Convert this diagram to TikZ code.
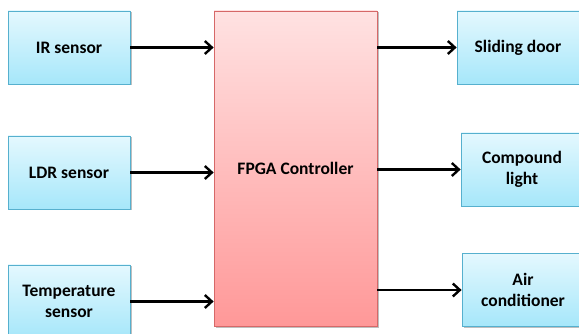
\documentclass[tikz,border=0pt]{standalone}
\usepackage{fontspec}
\setmainfont{Carlito}
\usepackage{xcolor}
\usetikzlibrary{arrows.meta,shadows}

\definecolor{boxtop}{RGB}{228,248,254}
\definecolor{boxbot}{RGB}{166,231,250}
\definecolor{boxline}{RGB}{86,176,206}
\definecolor{ctltop}{RGB}{255,226,226}
\definecolor{ctlbot}{RGB}{255,152,152}
\definecolor{ctlline}{RGB}{214,104,104}

\tikzset{
	unit/.style={draw=boxline, line width=0.8pt, top color=boxtop, bottom color=boxbot,
		minimum width=122pt, minimum height=73pt, inner sep=0pt, align=center,
		font=\fontsize{17.5}{21.5}\selectfont\bfseries,
		drop shadow={shadow xshift=1.5pt, shadow yshift=-1.5pt, opacity=0.25, fill=black}},
	ctl/.style={unit, draw=ctlline, top color=ctltop, bottom color=ctlbot,
		minimum width=163pt, minimum height=315pt},
	link/.style={line width=2.6pt, -{Straight Barb[length=7pt,width=13pt,line width=2.4pt]}}
}

\begin{document}
\begin{tikzpicture}[x=1pt,y=-1pt]

\useasboundingbox[fill=white] (0,0) rectangle (579,334);

% sensors
\node[unit] (ir) at (69,47.5) {IR sensor};
\node[unit] (ldr) at (69,172.5) {LDR sensor};
\node[unit] (temp) at (69,301.5) {Temperature\\sensor};

% controller
\node[ctl] (fpga) at (295.5,168.5) {FPGA Controller};

% outputs
\node[unit] (door) at (518,47.5) {Sliding door};
\node[unit] (light) at (522,169.5) {Compound\\light};
\node[unit] (air) at (523,290) {Air\\conditioner};

% connections
\draw[link] (ir) -- (ir -| fpga.west);
\draw[link] (ldr) -- (ldr -| fpga.west);
\draw[link] (temp) -- (temp -| fpga.west);

\draw[link] (fpga.east |- door) -- (door);
\draw[link] (fpga.east |- light) -- (light);
\draw[link] (fpga.east |- air) -- (air);

\end{tikzpicture}
\end{document}
